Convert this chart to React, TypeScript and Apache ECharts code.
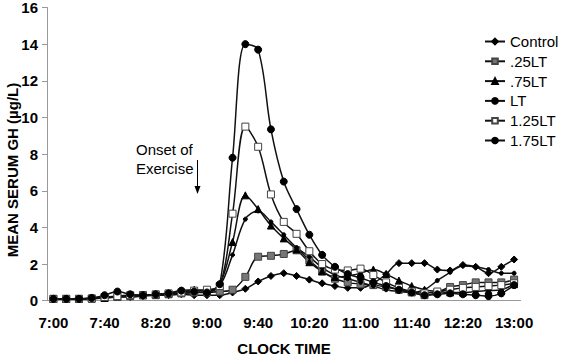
import React, { useEffect, useRef } from "react";
import * as echarts from "echarts";

const times = ["7:00","7:10","7:20","7:30","7:40","7:50","8:00","8:10","8:20","8:30","8:40","8:50","9:00","9:10","9:20","9:30","9:40","9:50","10:00","10:10","10:20","10:30","10:40","10:50","11:00","11:10","11:20","11:30","11:40","11:50","12:00","12:10","12:20","12:30","12:40","12:50","13:00"];

const control = [0.1,0.1,0.12,0.12,0.15,0.2,0.2,0.25,0.3,0.3,0.35,0.3,0.3,0.3,0.45,0.65,1.05,1.35,1.5,1.35,1.15,0.95,0.8,0.7,0.7,0.95,1.45,2.05,2.05,2.05,1.7,1.65,1.95,1.85,1.5,1.85,2.25];
const lt25 = [0.1,0.1,0.1,0.12,0.15,0.2,0.25,0.3,0.3,0.35,0.4,0.45,0.45,0.5,0.6,1.3,2.4,2.45,2.55,2.75,2.2,1.6,1.2,1.0,0.9,0.85,0.75,0.6,0.45,0.3,0.45,0.75,0.85,1.0,1.0,1.0,1.15];
const lt75 = [0.1,0.1,0.1,0.12,0.15,0.25,0.3,0.3,0.35,0.4,0.55,0.6,0.55,0.9,3.2,5.75,5.0,4.1,3.4,2.8,2.1,1.6,1.3,1.35,1.5,1.7,1.45,1.1,0.8,0.6,0.5,0.45,0.45,0.5,0.55,0.6,0.9];
const lt = [0.1,0.1,0.1,0.12,0.15,0.2,0.25,0.3,0.3,0.35,0.4,0.45,0.5,0.8,2.5,4.45,4.9,4.3,3.6,2.9,2.4,1.8,1.4,1.2,1.0,0.8,0.6,0.5,0.45,0.6,1.1,1.55,1.9,1.85,1.7,1.5,1.5];
const lt125 = [0.1,0.1,0.1,0.12,0.2,0.25,0.3,0.3,0.35,0.4,0.45,0.55,0.6,0.8,4.75,9.5,8.4,5.8,4.3,3.65,2.7,2.0,1.7,1.65,1.75,1.4,1.0,0.7,0.5,0.4,0.5,0.6,0.7,0.75,0.8,0.85,0.95];
const lt175 = [0.1,0.1,0.1,0.15,0.3,0.5,0.35,0.3,0.35,0.4,0.55,0.5,0.45,0.9,7.8,14.0,13.7,9.35,6.5,5.0,3.6,2.5,1.85,1.45,1.25,1.0,0.8,0.6,0.45,0.3,0.35,0.4,0.35,0.3,0.25,0.4,0.85];

const yTicks = { min: 0, max: 16, interval: 2 };

export default function App() {
  const ref = useRef<HTMLDivElement>(null);
  useEffect(() => {
    const chart = echarts.init(ref.current!, null, { renderer: "svg" });
    const font = "'Liberation Sans', Arial, sans-serif";
    const mk = (name: string, data: number[], symbol: string, size: number, color: string, border: string) => ({
      name,
      type: "line",
      data,
      smooth: 0.35,
      symbol,
      symbolSize: size,
      showSymbol: true,
      lineStyle: { color: "#111", width: 1.5 },
      itemStyle: { color, borderColor: border, borderWidth: 1 },
      emphasis: { disabled: true },
    });
    chart.setOption({
      animation: false,
      backgroundColor: "#fff",
      grid: { left: 47, right: 41.5, top: 5.5, bottom: 57.3, containLabel: false },
      legend: {
        orient: "vertical",
        left: 479,
        top: 29,
        itemWidth: 20,
        itemHeight: 7,
        itemGap: 4.8,
        textStyle: { fontFamily: font, fontSize: 15, color: "#000" },
        data: ["Control", ".25LT", ".75LT", "LT", "1.25LT", "1.75LT"],
      },
      xAxis: {
        type: "category",
        data: times,
        boundaryGap: true,
        axisLine: { lineStyle: { color: "#999", width: 1 } },
        axisTick: { interval: 3, length: 5, lineStyle: { color: "#999" } },
        axisLabel: { interval: 3, margin: 14, fontFamily: font, fontSize: 15, fontWeight: "bold", color: "#000" },
        splitLine: { show: false },
      },
      yAxis: {
        type: "value",
        min: yTicks.min,
        max: yTicks.max,
        interval: yTicks.interval,
        axisLine: { show: true, lineStyle: { color: "#999", width: 1 } },
        axisTick: { show: true, length: 5, lineStyle: { color: "#999" } },
        axisLabel: { margin: 9, fontFamily: font, fontSize: 15, fontWeight: "bold", color: "#000" },
        splitLine: { show: false },
      },
      graphic: [
        {
          type: "text",
          x: 284,
          y: 348,
          style: { text: "CLOCK TIME", fontFamily: font, fontSize: 15, fontWeight: "bold", fill: "#000", align: "center", verticalAlign: "middle" },
        },
        {
          type: "text",
          x: 12,
          y: 170,
          rotation: Math.PI / 2,
          style: { text: "MEAN SERUM GH (µg/L)", fontFamily: font, fontSize: 15, fontWeight: "bold", fill: "#000", align: "center", verticalAlign: "middle" },
        },
        {
          type: "text",
          x: 136,
          y: 149,
          style: { text: "Onset of", fontFamily: font, fontSize: 15, fill: "#000", align: "left", verticalAlign: "middle" },
        },
        {
          type: "text",
          x: 136,
          y: 168,
          style: { text: "Exercise", fontFamily: font, fontSize: 15, fill: "#000", align: "left", verticalAlign: "middle" },
        },
        {
          type: "line",
          shape: { x1: 197.5, y1: 160, x2: 197.5, y2: 188 },
          style: { stroke: "#000", lineWidth: 1 },
        },
        {
          type: "polygon",
          shape: { points: [[194.5, 186], [200.5, 186], [197.5, 194]] },
          style: { fill: "#000" },
        },
      ],
      series: [
        mk("Control", control, "diamond", 7, "#000", "#000"),
        mk(".25LT", lt25, "rect", 7, "#777", "#444"),
        mk(".75LT", lt75, "triangle", 7, "#000", "#000"),
        mk("LT", lt, "circle", 4, "#000", "#000"),
        mk("1.25LT", lt125, "rect", 7, "#fff", "#444"),
        mk("1.75LT", lt175, "circle", 7, "#000", "#000"),
      ],
    });
    return () => chart.dispose();
  }, []);
  return <div ref={ref} style={{ position: "absolute", left: 0, top: 0, width: 562, height: 358 }} />;
}
